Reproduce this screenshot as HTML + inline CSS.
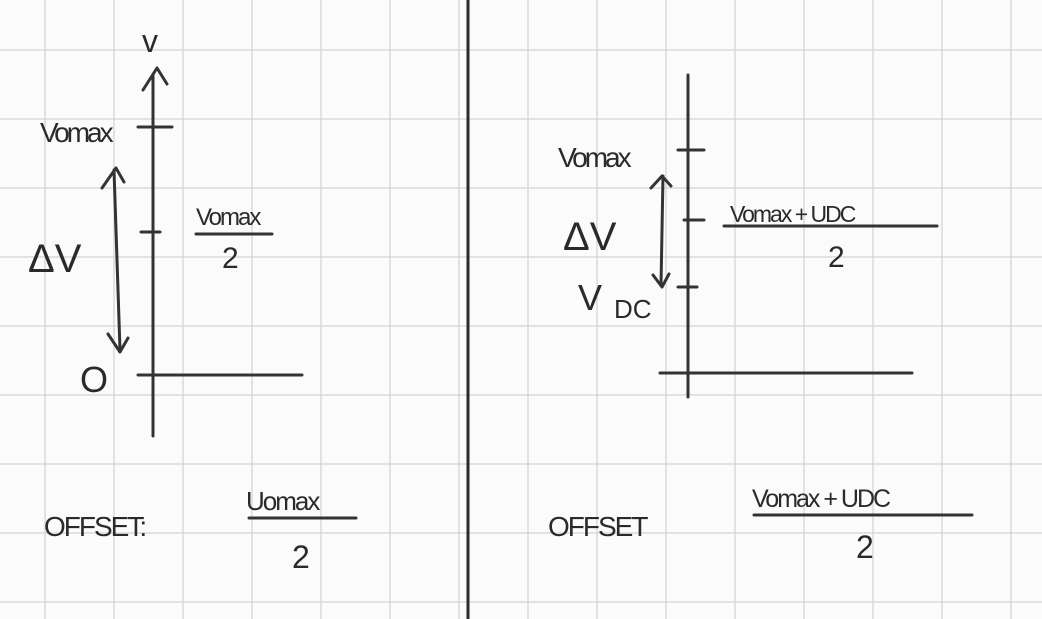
<!DOCTYPE html>
<html><head><style>
html,body{margin:0;padding:0;background:#fbfbfb;}
svg{display:block}
text{font-family:"Liberation Sans",sans-serif;fill:#2a2a2a;}
</style></head><body>
<svg width="1042" height="619" viewBox="0 0 1042 619" xmlns="http://www.w3.org/2000/svg">
<rect width="1042" height="619" fill="#fbfbfb"/>
<g stroke="#d2d2d2" stroke-width="1.2">
<line x1="45" y1="0" x2="45" y2="619"/><line x1="114" y1="0" x2="114" y2="619"/><line x1="183" y1="0" x2="183" y2="619"/><line x1="252" y1="0" x2="252" y2="619"/><line x1="321" y1="0" x2="321" y2="619"/><line x1="390" y1="0" x2="390" y2="619"/><line x1="459" y1="0" x2="459" y2="619"/><line x1="528" y1="0" x2="528" y2="619"/><line x1="597" y1="0" x2="597" y2="619"/><line x1="666" y1="0" x2="666" y2="619"/><line x1="735" y1="0" x2="735" y2="619"/><line x1="804" y1="0" x2="804" y2="619"/><line x1="873" y1="0" x2="873" y2="619"/><line x1="942" y1="0" x2="942" y2="619"/><line x1="1011" y1="0" x2="1011" y2="619"/>
<line x1="0" y1="50" x2="1042" y2="50"/><line x1="0" y1="119" x2="1042" y2="119"/><line x1="0" y1="188" x2="1042" y2="188"/><line x1="0" y1="257" x2="1042" y2="257"/><line x1="0" y1="326" x2="1042" y2="326"/><line x1="0" y1="395" x2="1042" y2="395"/><line x1="0" y1="464" x2="1042" y2="464"/><line x1="0" y1="533" x2="1042" y2="533"/><line x1="0" y1="602" x2="1042" y2="602"/>
</g>
<line x1="468" y1="0" x2="468" y2="619" stroke="#2a2a2a" stroke-width="3"/>
<g stroke="#333" stroke-width="3" fill="none" stroke-linecap="round" stroke-linejoin="round">
<line x1="153" y1="75" x2="153" y2="436"/>
<polyline points="143,90 157,68 167,84"/>
<line x1="138" y1="375" x2="302" y2="375"/>
<line x1="138" y1="127" x2="172" y2="127"/>
<line x1="141" y1="232" x2="160" y2="232"/>
<line x1="114" y1="170" x2="120" y2="350"/>
<polyline points="102,188 116,168 124,182"/>
<polyline points="108,334 120,352 128,338"/>
<line x1="196" y1="234" x2="272" y2="234"/>
<line x1="249" y1="518" x2="356" y2="518"/>
<line x1="688" y1="75" x2="688" y2="397"/>
<line x1="660" y1="373" x2="912" y2="373"/>
<line x1="678" y1="150" x2="704" y2="150"/>
<line x1="684" y1="220" x2="704" y2="220"/>
<line x1="678" y1="287" x2="697" y2="287"/>
<line x1="663" y1="176" x2="661" y2="285"/>
<polyline points="651,188 662,176 671,186"/>
<polyline points="653,275 662,287 669,274"/>
<line x1="724" y1="226" x2="937" y2="226"/>
<line x1="754" y1="515" x2="972" y2="515"/>
</g>
<text x="142" y="52" font-size="32">v</text>
<text x="40" y="142" font-size="28" letter-spacing="-3">Vomax</text>
<text x="28" y="272" font-size="40">ΔV</text>
<text x="80" y="392" font-size="36">O</text>
<text x="196" y="225" font-size="24" letter-spacing="-2">Vomax</text>
<text x="222" y="268" font-size="30">2</text>
<text x="44" y="536" font-size="28" letter-spacing="-2">OFFSET:</text>
<text x="246" y="510" font-size="26" letter-spacing="-2">Uomax</text>
<text x="292" y="568" font-size="32">2</text>
<text x="558" y="167" font-size="28" letter-spacing="-3">Vomax</text>
<text x="563" y="250" font-size="40">ΔV</text>
<text x="578" y="310" font-size="36">V</text><text x="614" y="318" font-size="26">DC</text>
<text x="730" y="222" font-size="23" letter-spacing="-2">Vomax + UDC</text>
<text x="828" y="267" font-size="30">2</text>
<text x="548" y="536" font-size="28" letter-spacing="-2">OFFSET</text>
<text x="752" y="507" font-size="25" letter-spacing="-2">Vomax + UDC</text>
<text x="856" y="558" font-size="32">2</text>
</svg>
</body></html>
